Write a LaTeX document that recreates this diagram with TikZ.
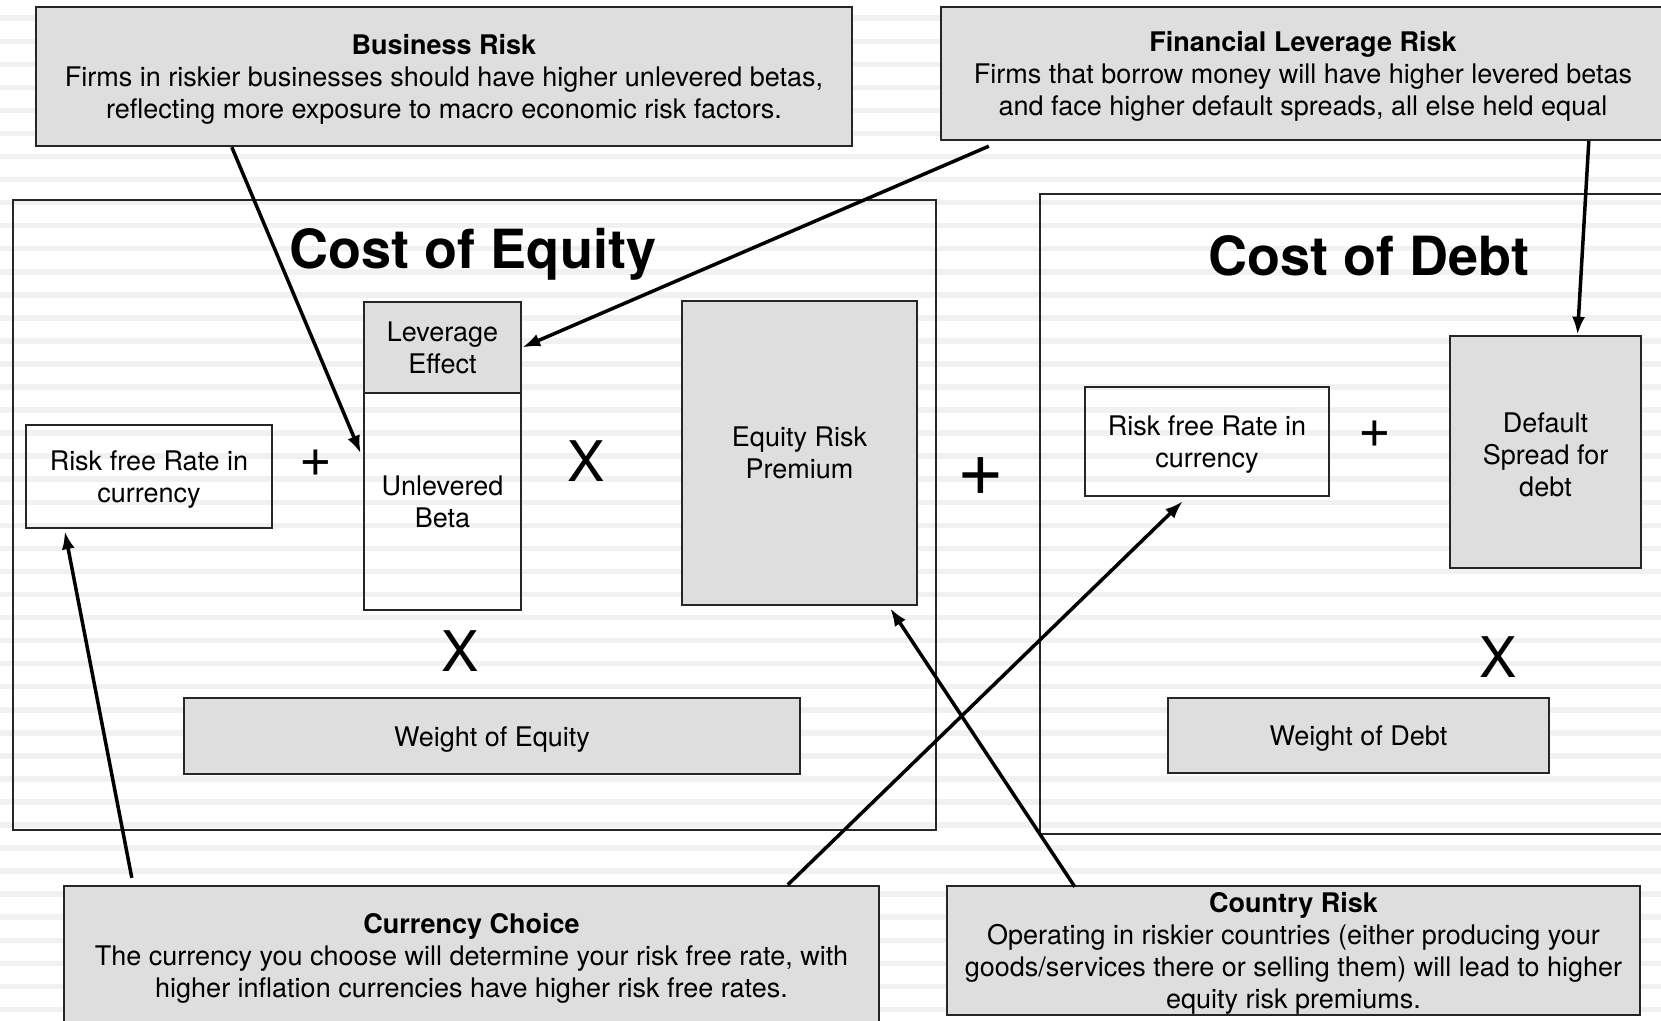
\documentclass[tikz,border=0pt]{standalone}
\usepackage{fontspec}
\setmainfont{TeX Gyre Heros}
\usetikzlibrary{arrows.meta}

\definecolor{boxgray}{HTML}{DEDEDE}
\definecolor{boxline}{HTML}{262626}
\definecolor{stripe}{HTML}{F1F1F1}

% puntello per abbassare la prima riga di testo
\newcommand{\alto}{\rule{0pt}{13pt}}

\begin{document}
\begin{tikzpicture}[x=0.5pt, y=-0.5pt, line width=1.2pt, >={Latex[length=9pt,width=6.5pt]},
    font=\fontsize{13.5}{16}\selectfont,
    box/.style={draw=boxline, inner sep=0pt, align=center},
    grigio/.style={box, fill=boxgray},
    titolo/.style={font=\fontsize{27}{32}\selectfont\bfseries},
    op/.style={font=\fontsize{28}{30}\selectfont},
    freccia/.style={->, line width=1.75pt}]

        % ==========================================
        % 1. Sfondo a righe orizzontali
        % ==========================================
        \useasboundingbox (0,0) rectangle (1661,1021);
        \fill[white] (0,0) rectangle (1661,1021);
        \foreach \k in {0,...,44}{
            \fill[stripe] (0,15.5+23.05*\k) rectangle (1661,21+23.05*\k);
        }

        % ==========================================
        % 2. Riquadri grandi: costo dell'equity e del debito
        % ==========================================
        \node[box, minimum width=461.5pt, minimum height=315pt] (equity) at (474.5,515) {};
        \node[box, minimum width=325pt, minimum height=320pt] (debt) at (1365,514) {};
        \node[titolo] (eqtitle) at (473,254) {Cost of Equity};
        \node[titolo] (dbtitle) at (1369,256) {Cost of Debt};

        % ==========================================
        % 3. Componenti del costo dell'equity
        % ==========================================
        \node[box, minimum width=123pt, minimum height=51.5pt] (rfe) at (149,476.5) {\alto Risk free Rate in\\currency};
        \node[grigio, minimum width=78.5pt, minimum height=45.5pt] (lev) at (442.5,347.5) {Leverage\\Effect};
        \node[box, minimum width=78.5pt, minimum height=108.5pt] (beta) at (442.5,501.5) {Unlevered\\Beta};
        \node[grigio, minimum width=117.5pt, minimum height=152pt] (erp) at (799.5,453) {Equity Risk\\Premium};
        \node[grigio, minimum width=308pt, minimum height=38pt] (wte) at (492,736) {\alto Weight of Equity};

        \node[op] (plus1) at (316,463) {+};
        \node[op] (times1) at (586,461) {X};
        \node[op] (times2) at (460,651) {X};
        \node[font=\fontsize{40}{40}\selectfont] (bigplus) at (981,477) {+};

        % ==========================================
        % 4. Componenti del costo del debito
        % ==========================================
        \node[box, minimum width=122pt, minimum height=54.5pt] (rfd) at (1207,441.5) {\alto Risk free Rate in\\currency};
        \node[grigio, minimum width=95.5pt, minimum height=116pt] (spread) at (1545.5,452) {\alto Default\\Spread for\\debt};
        \node[grigio, minimum width=190.5pt, minimum height=37.5pt] (wtd) at (1358.5,735.5) {\alto Weight of Debt};

        \node[op] (plus2) at (1375,434) {+};
        \node[op] (times3) at (1498,657) {X};

        % ==========================================
        % 5. Riquadri esplicativi dei rischi
        % ==========================================
        \node[grigio, minimum width=408pt, minimum height=69.5pt] (brisk) at (444,76.5)
            {\alto\textbf{Business Risk}\\Firms in riskier businesses should have higher unlevered betas,\\reflecting more exposure to macro economic risk factors.};
        \node[grigio, minimum width=362pt, minimum height=66.5pt] (flev) at (1303,73.5)
            {\alto\textbf{Financial Leverage Risk}\\Firms that borrow money will have higher levered betas\\and face higher default spreads, all else held equal};
        \node[grigio, minimum width=407.5pt, minimum height=69pt] (ccy) at (471.5,955)
            {\alto\textbf{Currency Choice}\\The currency you choose will determine your risk free rate, with\\higher inflation currencies have higher risk free rates.};
        \node[grigio, minimum width=346.5pt, minimum height=64.5pt] (crisk) at (1293.5,950.5)
            {\alto\textbf{Country Risk}\\Operating in riskier countries (either producing your\\goods/services there or selling them) will lead to higher\\equity risk premiums.};

        % ==========================================
        % 6. Frecce dai rischi alle componenti
        % ==========================================
        \draw[freccia] ([xshift=98.5pt]brisk.south west) -- ([xshift=-1pt,yshift=24pt]beta.west);
        \draw[freccia] ([xshift=24.5pt,yshift=-2.5pt]flev.south west) -- (lev.east);
        \draw[freccia] ([xshift=324.5pt]flev.south west) -- ([xshift=16pt]spread.north);
        \draw[freccia] ([xshift=34.5pt,yshift=3.5pt]ccy.north west) -- ([xshift=20pt,yshift=-1pt]rfe.south west);
        \draw[freccia] ([xshift=362.5pt]ccy.north west) -- ([xshift=49.5pt,yshift=-2pt]rfd.south west);
        \draw[freccia] ([xshift=64.5pt,yshift=-1pt]crisk.north west) -- ([xshift=-14pt,yshift=-1pt]erp.south east);

    \end{tikzpicture}
\end{document}
